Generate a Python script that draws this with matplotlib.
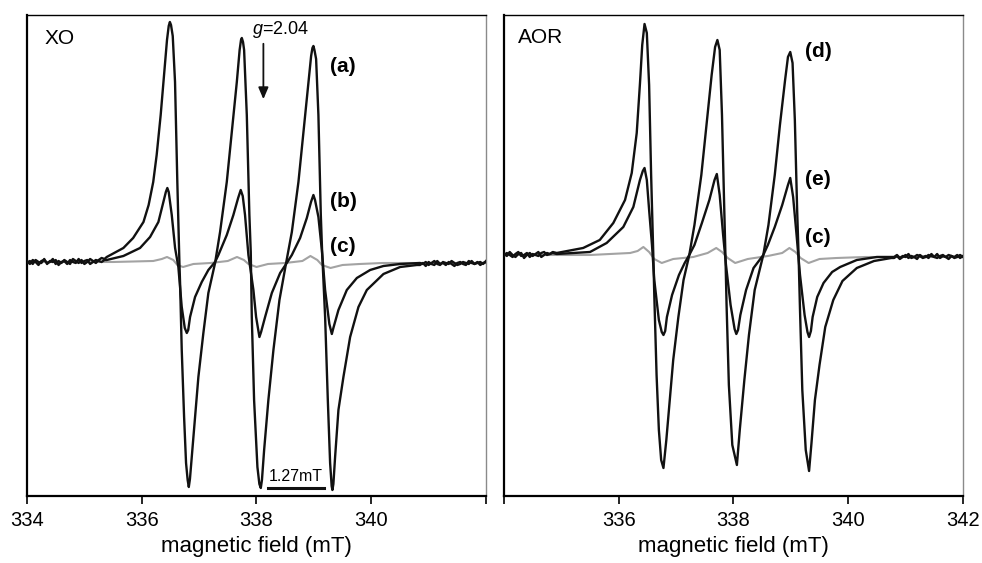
import matplotlib
matplotlib.use('Agg')
import matplotlib.pyplot as plt

plt.rcParams['font.family'] = 'Liberation Sans'
plt.rcParams['mathtext.fontset'] = 'custom'
plt.rcParams['mathtext.it'] = 'Liberation Sans:italic'
plt.rcParams['mathtext.rm'] = 'Liberation Sans'

# ---- XO panel (magnetic field in mT, signal in arbitrary units, baseline = 0) ----
xo_noise_left_field = [334.00, 334.05, 334.10, 334.15, 334.20, 334.25, 334.30, 334.35, 334.40, 334.45,
                       334.50, 334.55, 334.60, 334.65, 334.70, 334.75, 334.80, 334.85, 334.90, 334.95,
                       335.00, 335.05, 335.10, 335.15, 335.20, 335.25, 335.30, 335.35]
xo_noise_right_field = [340.85, 340.90, 340.95, 341.00, 341.05, 341.10, 341.15, 341.20, 341.25, 341.30,
                        341.35, 341.40, 341.45, 341.50, 341.55, 341.60, 341.65, 341.70, 341.75, 341.80,
                        341.85, 341.90, 341.95, 342.00]

a_noise_left = [1, -2, 2, 0, -3, 1, 2, -1, 0, 3, -2, 1, -1, 2, 0, -2, 3, 1, -1, 2, -2, 0, 3, 1, -1, 2, 4, 3]
a_noise_right = [-3, -1, -4, 0, -2, -3, 1, -2, -1, -3, 0, -2, -4, -1, 0, -2, -3, 1, -1, -2, 0, -3, -1, 0]
b_noise_left = [-1, 1, -2, 2, 0, -1, 3, -2, 1, 0, 2, -3, 0, 1, -2, 2, 0, -1, 3, -1, 1, 2, -2, 0, 2, 1, 0, 2]
b_noise_right = [-1, -2, 0, -3, -1, 1, -2, -3, 0, -1, -2, 1, -1, -3, -2, 0, -1, -2, 1, -2, -1, 0, -2, 1]

a_field = [335.39, 335.68, 335.85, 336.03, 336.12, 336.20, 336.26, 336.33, 336.40, 336.44,
           336.47, 336.49, 336.51, 336.54, 336.58, 336.62, 336.656, 336.668, 336.697, 336.738,
           336.772, 336.80, 336.82, 336.84, 336.872, 336.929, 336.987, 337.074, 337.161, 337.278,
           337.365, 337.482, 337.569, 337.657, 337.706, 337.73, 337.744, 337.765, 337.784, 337.831,
           337.876, 337.90, 337.918, 337.958, 338.016, 338.05, 338.075, 338.095, 338.133, 338.207,
           338.295, 338.40, 338.516, 338.616, 338.731, 338.818, 338.905, 338.952, 338.975, 338.992,
           339.01, 339.039, 339.079, 339.121, 339.144, 339.196, 339.243, 339.283, 339.31, 339.323,
           339.34, 339.37, 339.428, 339.515, 339.632, 339.777, 339.923, 340.213, 340.504, 340.795]
a_signal = [5, 14, 24, 40, 57, 80, 107, 147, 195, 222,
            236, 240, 237, 226, 180, 80, 0, -21, -88, -155,
            -201, -218, -225, -217, -195, -155, -115, -71, -31, -1,
            30, 80, 130, 180, 212, 222, 224, 220, 212, 147,
            47, 10, -55, -138, -205, -222, -226, -218, -188, -138,
            -88, -38, -1, 30, 80, 130, 180, 206, 214, 216,
            212, 203, 147, 47, 10, -55, -138, -201, -224, -228,
            -222, -195, -148, -115, -75, -45, -28, -12, -5, -3]

b_field = [335.39, 335.68, 335.97, 336.145, 336.29, 336.377, 336.42, 336.446, 336.47, 336.523,
           336.581, 336.638, 336.697, 336.75, 336.785, 336.81, 336.842, 336.929, 337.046, 337.161,
           337.278, 337.336, 337.482, 337.597, 337.68, 337.725, 337.76, 337.80, 337.859, 337.946,
           337.993, 338.051, 338.08, 338.15, 338.267, 338.412, 338.528, 338.616, 338.76, 338.877,
           338.95, 338.992, 339.02, 339.079, 339.139, 339.196, 339.27, 339.313, 339.34, 339.428,
           339.574, 339.749, 339.981, 340.213, 340.504]
b_signal = [2, 6, 14, 25, 40, 60, 70, 74, 70, 47,
            14, -5, -45, -66, -71, -68, -55, -35, -20, -8,
            0, 7, 27, 47, 64, 72, 66, 47, 7, -28,
            -55, -75, -70, -55, -31, -11, -1, 7, 24, 44,
            60, 67, 62, 45, 12, -28, -62, -72, -66, -48,
            -28, -16, -8, -4, -2]

c_xo_field = [334.0, 335.5, 336.2, 336.35, 336.44, 336.55, 336.62, 336.72, 336.9, 337.2,
              337.5, 337.66, 337.78, 337.86, 338.0, 338.2, 338.5, 338.8, 338.94, 339.06,
              339.14, 339.29, 339.5, 339.8, 340.2, 342.0]
c_xo_signal = [0, 0, 1, 3, 5, 2, -3, -5, -2, -1,
               1, 5, 2, -2, -5, -2, -1, 1, 6, 2,
               -3, -6, -3, -2, -1, -1]

# ---- AOR panel ----
aor_noise_left_field = [334.00, 334.05, 334.10, 334.15, 334.20, 334.25, 334.30, 334.35, 334.40,
                        334.45, 334.50, 334.55, 334.60, 334.65, 334.70, 334.75, 334.80, 334.85]
aor_noise_right_field = [340.80, 340.85, 340.90, 340.95, 341.00, 341.05, 341.10, 341.15, 341.20,
                         341.25, 341.30, 341.35, 341.40, 341.45, 341.50, 341.55, 341.60, 341.65,
                         341.70, 341.75, 341.80, 341.85, 341.90, 341.95, 342.00]

d_noise_left = [2, -1, 3, 0, -2, 1, 2, -3, 0, 2, -1, 1, 3, -2, 0, 2, 1, 3]
d_noise_right = [-3, -1, -4, -2, 0, -3, -1, -2, -4, 0, -2, -1, -3, 1, -2, -3, -1, 0, -2, -4,
                 -1, -2, 0, -3, -1]
e_noise_left = [-1, 2, 0, -2, 1, 3, -1, 0, 2, -2, 1, 0, -1, 2, 3, 0, 1, 2]
e_noise_right = [-2, 0, -3, -1, -2, 1, -3, -2, 0, -1, -3, -2, 0, -1, -2, 1, -3, -1, -2, 0,
                 -1, -3, -2, 0, -2]

d_field = [334.92, 335.38, 335.67, 335.906, 336.11, 336.227, 336.314, 336.371, 336.41, 336.45,
           336.49, 336.53, 336.565, 336.603, 336.62, 336.66, 336.70, 336.74, 336.78, 336.83,
           336.89, 336.95, 337.04, 337.13, 337.23, 337.32, 337.44, 337.53, 337.62, 337.68,
           337.72, 337.76, 337.80, 337.84, 337.86, 337.88, 337.92, 337.98, 338.06, 338.11,
           338.19, 338.27, 338.37, 338.52, 338.61, 338.72, 338.81, 338.90, 338.95, 338.99,
           339.03, 339.07, 339.11, 339.135, 339.16, 339.20, 339.26, 339.318, 339.36, 339.42,
           339.50, 339.60, 339.74, 339.90, 340.15, 340.45, 340.75]
d_signal = [2, 7, 15, 32, 55, 82, 122, 172, 210, 231,
            222, 170, 80, 0, -40, -120, -175, -205, -213, -185,
            -145, -105, -62, -25, 0, 30, 80, 130, 180, 208,
            215, 205, 140, 45, 0, -50, -130, -190, -210, -175,
            -125, -80, -35, 0, 30, 80, 130, 175, 198, 203,
            192, 135, 45, 0, -55, -135, -195, -216, -188, -145,
            -110, -72, -45, -26, -13, -6, -3]

e_field = [334.92, 335.50, 335.79, 336.08, 336.255, 336.37, 336.42, 336.45, 336.49, 336.53,
           336.58, 336.62, 336.70, 336.75, 336.78, 336.81, 336.84, 336.93, 337.05, 337.15,
           337.23, 337.32, 337.45, 337.58, 337.67, 337.71, 337.76, 337.82, 337.87, 337.95,
           338.02, 338.05, 338.08, 338.12, 338.22, 338.35, 338.52, 338.60, 338.72, 338.85,
           338.95, 338.99, 339.04, 339.10, 339.16, 339.24, 339.29, 339.318, 339.35, 339.38,
           339.46, 339.57, 339.72, 339.86, 340.15, 340.50]
e_signal = [1, 3, 12, 28, 48, 75, 84, 87, 75, 45,
            10, -25, -65, -77, -80, -76, -62, -40, -20, -8,
            0, 10, 32, 55, 75, 81, 60, 20, -10, -50,
            -74, -79, -75, -60, -35, -13, 0, 10, 28, 50,
            70, 77, 58, 20, -20, -60, -77, -82, -76, -62,
            -42, -28, -17, -12, -5, -2]

c_aor_field = [334.0, 335.5, 336.2, 336.33, 336.43, 336.53, 336.62, 336.75, 336.95, 337.3,
               337.55, 337.70, 337.80, 337.90, 338.03, 338.25, 338.6, 338.85, 338.975, 339.08,
               339.17, 339.31, 339.5, 339.8, 340.3, 342.0]
c_aor_signal = [0, 0, 2, 4, 8, 3, -4, -8, -4, -2,
                2, 7, 3, -3, -8, -4, -1, 2, 7, 3,
                -3, -8, -4, -3, -2, -2]

tick_values = [334, 336, 338, 340, 342]
xo_tick_labels = ['334', '336', '338', '340', '']
aor_tick_labels = ['', '336', '338', '340', '342']

BLACK = '#111111'
GREY = '#a3a3a3'

fig = plt.figure(figsize=(9.82, 5.63), dpi=100)
ax1 = fig.add_axes([0.0275, 0.119, 0.4674, 0.8544])
ax2 = fig.add_axes([0.5132, 0.119, 0.4674, 0.8544])


def style_axis(ax, labels, ylim):
    ax.set_xlim(334, 342)
    ax.set_ylim(ylim)
    ax.set_xticks(tick_values)
    ax.set_xticklabels(labels)
    ax.set_yticks([])
    ax.tick_params(axis='x', direction='out', length=6, width=1.2, labelsize=14.5, pad=5)
    ax.set_xlabel('magnetic field (mT)', fontsize=16, labelpad=4)
    ax.spines['left'].set_linewidth(1.6)
    ax.spines['bottom'].set_linewidth(1.6)
    ax.spines['top'].set_linewidth(1.0)
    ax.spines['right'].set_linewidth(1.0)
    ax.spines['right'].set_color('#8a8a8a')


# XO
ax1.plot(c_xo_field, c_xo_signal, color=GREY, lw=1.5, zorder=2)
ax1.plot(xo_noise_left_field + b_field + xo_noise_right_field,
         b_noise_left + b_signal + b_noise_right, color=BLACK, lw=1.7, zorder=3)
ax1.plot(xo_noise_left_field + a_field + xo_noise_right_field,
         a_noise_left + a_signal + a_noise_right, color=BLACK, lw=1.7, zorder=3)
style_axis(ax1, xo_tick_labels, (-234, 247))

ax1.text(334.31, 223, 'XO', fontsize=15, ha='left', va='center')
ax1.text(339.28, 195, '(a)', fontsize=15, fontweight='bold', ha='left', va='center')
ax1.text(339.28, 60, '(b)', fontsize=15, fontweight='bold', ha='left', va='center')
ax1.text(339.28, 15, '(c)', fontsize=15, fontweight='bold', ha='left', va='center')
ax1.text(337.92, 232, '$g$=2.04', fontsize=13, ha='left', va='center')
ax1.annotate('', xy=(338.12, 160), xytext=(338.12, 221),
             arrowprops=dict(arrowstyle='-|>,head_width=0.3,head_length=0.7', color=BLACK, lw=1.3))
ax1.plot([338.20, 339.18], [-226, -226], color=BLACK, lw=2.2)
ax1.text(338.69, -214, '1.27mT', fontsize=11.5, ha='center', va='center')

# AOR
ax2.plot(c_aor_field, c_aor_signal, color=GREY, lw=1.5, zorder=2)
ax2.plot(aor_noise_left_field + e_field + aor_noise_right_field,
         e_noise_left + e_signal + e_noise_right, color=BLACK, lw=1.7, zorder=3)
ax2.plot(aor_noise_left_field + d_field + aor_noise_right_field,
         d_noise_left + d_signal + d_noise_right, color=BLACK, lw=1.7, zorder=3)
style_axis(ax2, aor_tick_labels, (-241, 240))

ax2.text(334.24, 217, 'AOR', fontsize=15, ha='left', va='center')
ax2.text(339.25, 203, '(d)', fontsize=15, fontweight='bold', ha='left', va='center')
ax2.text(339.25, 75, '(e)', fontsize=15, fontweight='bold', ha='left', va='center')
ax2.text(339.25, 17, '(c)', fontsize=15, fontweight='bold', ha='left', va='center')

fig.savefig('out.png', dpi=100)
